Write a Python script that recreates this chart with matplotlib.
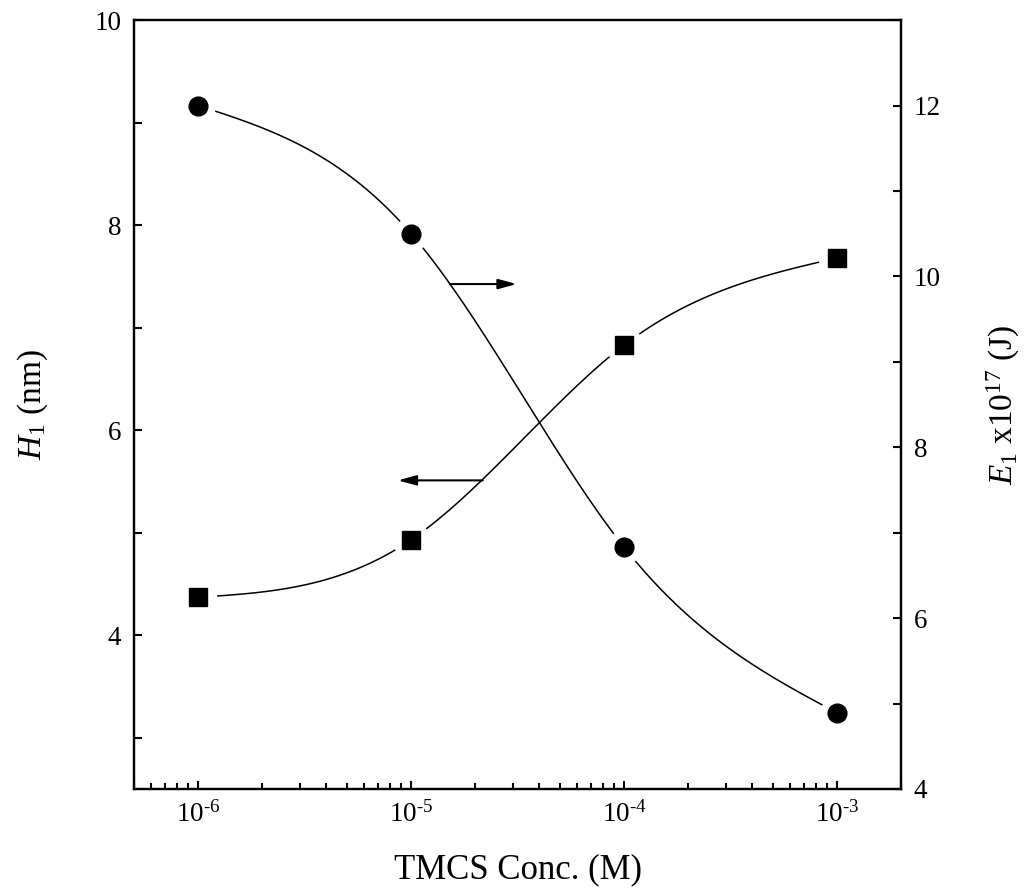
"""TMCS concentration vs H1 (left) and E1 (right), smooth curves through the points."""
import matplotlib
matplotlib.use("Agg")
import matplotlib.pyplot as plt
import numpy as np
from matplotlib.ticker import FixedLocator, FuncFormatter, NullFormatter

plt.rcParams["font.family"] = ["Liberation Serif", "DejaVu Serif"]
plt.rcParams["mathtext.fontset"] = "custom"
plt.rcParams["mathtext.rm"] = "Liberation Serif"
plt.rcParams["mathtext.it"] = "Liberation Serif:italic"

conc = [1e-6, 1e-5, 1e-4, 1e-3]
h1 = [4.37, 4.93, 6.83, 7.68]      # nm, left axis (squares)
e1 = [12.0, 10.5, 6.83, 4.89]      # x1e17 J, right axis (circles)


def natural_spline(x, y, xs):
    x = np.asarray(x, float)
    y = np.asarray(y, float)
    n = len(x)
    h = np.diff(x)
    A = np.zeros((n, n))
    b = np.zeros(n)
    A[0, 0] = A[-1, -1] = 1
    for i in range(1, n - 1):
        A[i, i - 1] = h[i - 1]
        A[i, i] = 2 * (h[i - 1] + h[i])
        A[i, i + 1] = h[i]
        b[i] = 6 * ((y[i + 1] - y[i]) / h[i] - (y[i] - y[i - 1]) / h[i - 1])
    M = np.linalg.solve(A, b)
    out = np.empty_like(xs)
    for k, v in enumerate(xs):
        i = min(max(np.searchsorted(x, v) - 1, 0), n - 2)
        t1 = x[i + 1] - v
        t0 = v - x[i]
        out[k] = (M[i] * t1**3 + M[i + 1] * t0**3) / (6 * h[i]) \
            + (y[i] / h[i] - M[i] * h[i] / 6) * t1 \
            + (y[i + 1] / h[i] - M[i + 1] * h[i] / 6) * t0
    return out


lx = np.log10(conc)
xs = np.linspace(lx[0], lx[-1], 400)

fig = plt.figure(figsize=(10.3, 8.92), dpi=100)
ax = fig.add_axes([0.130, 0.1155, 0.745, 0.862])
ax2 = ax.twinx()

# left: H1 squares (white halo leaves the gap between line and symbol)
ax.plot(10**xs, natural_spline(lx, h1, xs), color="black", lw=1.1, zorder=2)
ax.plot(conc, h1, ls="none", marker="o", ms=26, color="white", zorder=3)
ax.plot(conc, h1, ls="none", marker="s", ms=12.5, color="black", zorder=4)

# right: E1 circles
ax2.plot(10**xs, natural_spline(lx, e1, xs), color="black", lw=1.1, zorder=2)
ax2.plot(conc, e1, ls="none", marker="o", ms=24, color="white", zorder=3)
ax2.plot(conc, e1, ls="none", marker="o", ms=13.5, color="black", zorder=4)

ax.set_xscale("log")
ax.set_xlim(5e-7, 2e-3)
ax.set_ylim(2.5, 10)
ax2.set_ylim(4, 13)

ax.xaxis.set_major_locator(FixedLocator(conc))
ax.xaxis.set_major_formatter(FuncFormatter(lambda v, p: r"$10^{\text{%d}}$" % round(np.log10(v))))
ax.xaxis.set_minor_formatter(NullFormatter())
ax.set_yticks([4, 6, 8, 10])
ax.set_yticks([3, 5, 7, 9], minor=True)
ax2.set_yticks([4, 6, 8, 10, 12])
ax2.set_yticks([5, 7, 9, 11, 13], minor=True)

for a in (ax, ax2):
    a.tick_params(which="both", direction="in", width=1.5, labelsize=19.5, pad=9)
    a.tick_params(which="major", length=6)
    a.tick_params(which="minor", length=4)
    for s in a.spines.values():
        s.set_linewidth(1.6)
ax.tick_params(axis="y", which="minor", length=5.5)
ax2.tick_params(axis="y", which="minor", length=5.5)
ax.tick_params(axis="x", pad=9)
ax.tick_params(top=False, right=False, which="both")

ax.set_xlabel("TMCS Conc. (M)", fontsize=25, labelpad=18)
ax.set_ylabel(r"$H_1$ (nm)", fontsize=24, labelpad=32)
ax2.set_ylabel(r"$E_1$ x10$^{17}$ (J)", fontsize=24, labelpad=32)

arrow = dict(arrowstyle="-|>,head_length=0.55,head_width=0.15", color="black",
             lw=1.5, mutation_scale=20, shrinkA=0, shrinkB=0)
ax2.annotate("", xy=(3.13e-5, 9.91), xytext=(1.52e-5, 9.91), arrowprops=arrow)
ax.annotate("", xy=(8.67e-6, 5.51), xytext=(2.17e-5, 5.51), arrowprops=arrow)

plt.savefig("out.png", dpi=100)
print("Saved out.png")
